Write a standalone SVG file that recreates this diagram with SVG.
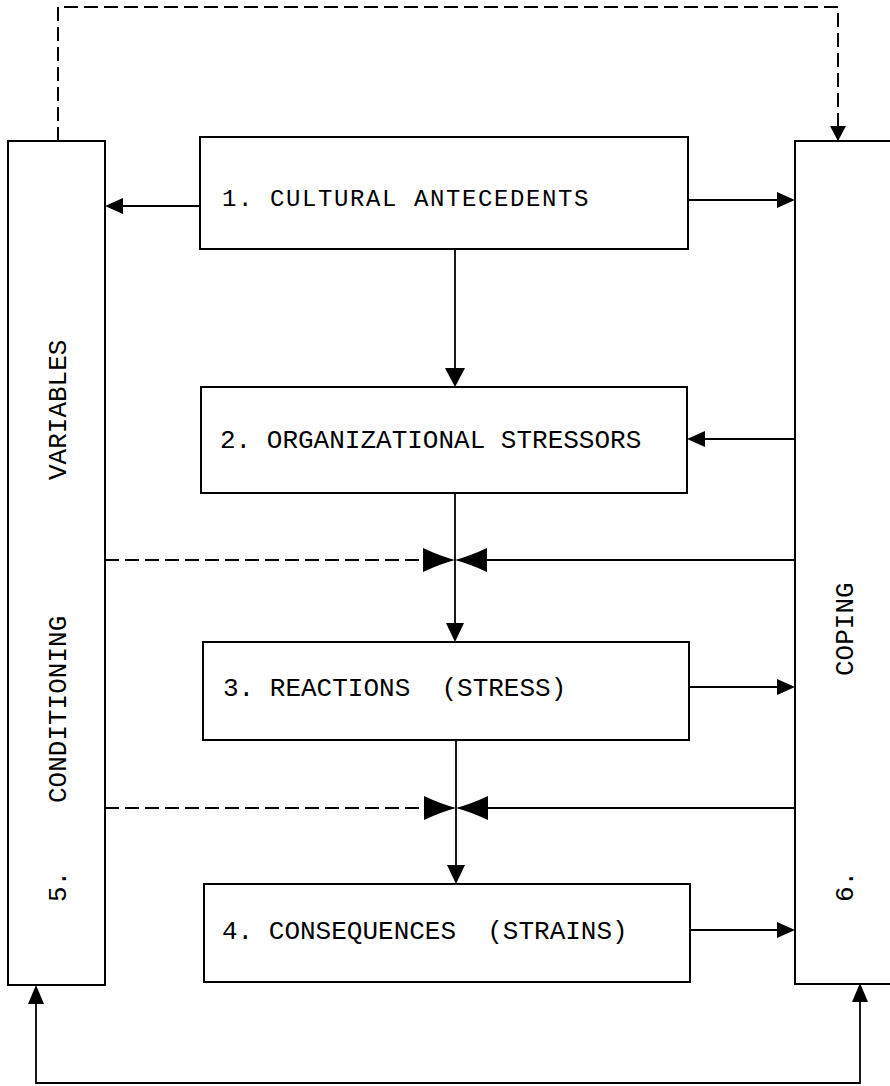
<svg xmlns="http://www.w3.org/2000/svg" width="890" height="1086" viewBox="0 0 890 1086">
<style>
.box{fill:#fff;stroke:#000;stroke-width:2}
.ln{fill:none;stroke:#000;stroke-width:1.8}
.dash{fill:none;stroke:#000;stroke-width:2;stroke-dasharray:14 6}
.hd{fill:#000;stroke:none}
.t{font-family:"Liberation Mono","DejaVu Sans Mono",monospace;font-size:26px;fill:#000}
.t1{font-family:"Liberation Mono","DejaVu Sans Mono",monospace;font-size:24px;letter-spacing:1.6px;fill:#000}
</style>
<rect width="890" height="1086" fill="#fff"/>
<g id="connectors">
  <polyline class="dash" points="58,141 58,7 838,7 838,126"/>
  <polygon class="hd" points="830,126 846,126 838,141"/>
  <polyline class="ln" points="36,1004 36,1083 860,1083 860,1002"/>
  <polygon class="hd" points="28,1004 44,1004 36,985"/>
  <polygon class="hd" points="852,1002 868,1002 860,983"/>
  <line class="ln" x1="200" y1="206" x2="122" y2="206"/>
  <polygon class="hd" points="123,198 123,214 105,206"/>
  <line class="ln" x1="688" y1="200" x2="778" y2="200"/>
  <polygon class="hd" points="777,192 777,208 795,200"/>
  <line class="ln" x1="455" y1="249" x2="455" y2="370"/>
  <polygon class="hd" points="445,368 465,368 455,387"/>
  <line class="ln" x1="795" y1="439" x2="704" y2="439"/>
  <polygon class="hd" points="705,431 705,447 687,439"/>
  <line class="ln" x1="455" y1="493" x2="455" y2="624"/>
  <polygon class="hd" points="446,623 464,623 455,642"/>
  <line class="dash" x1="105" y1="560" x2="424" y2="560"/>
  <line class="ln" x1="795" y1="560" x2="486" y2="560"/>
  <path class="hd" d="M423,548 Q440,556 455,560 Q440,564 423,572 Z"/>
  <path class="hd" d="M487,548 Q470,556 455,560 Q470,564 487,572 Z"/>
  <line class="ln" x1="689" y1="687" x2="778" y2="687"/>
  <polygon class="hd" points="777,679 777,695 795,687"/>
  <line class="ln" x1="456" y1="740" x2="456" y2="866"/>
  <polygon class="hd" points="447,865 465,865 456,884"/>
  <line class="dash" x1="105" y1="808" x2="424" y2="808"/>
  <line class="ln" x1="795" y1="808" x2="487" y2="808"/>
  <path class="hd" d="M424,796 Q441,804 456,808 Q441,812 424,820 Z"/>
  <path class="hd" d="M488,796 Q471,804 456,808 Q471,812 488,820 Z"/>
  <line class="ln" x1="690" y1="930" x2="778" y2="930"/>
  <polygon class="hd" points="777,922 777,938 795,930"/>
</g>
<g id="node5">
  <rect class="box" x="8" y="141" width="97" height="844"/>
  <text class="t" transform="translate(65.5,803) rotate(-90)">CONDITIONING</text>
  <text class="t" transform="translate(65.5,480) rotate(-90)">VARIABLES</text>
  <text class="t" transform="translate(65.5,902) rotate(-90)">5.</text>
</g>
<g id="node6">
  <rect class="box" x="795" y="141" width="100" height="843"/>
  <text class="t" transform="translate(852.5,676) rotate(-90)">COPING</text>
  <text class="t" transform="translate(852.5,902) rotate(-90)">6.</text>
</g>
<g id="node1">
  <rect class="box" x="200" y="137" width="488" height="112"/>
  <text class="t1" x="222" y="206">1. CULTURAL ANTECEDENTS</text>
</g>
<g id="node2">
  <rect class="box" x="201" y="387" width="486" height="106"/>
  <text class="t" x="220" y="448" xml:space="preserve">2. ORGANIZATIONAL STRESSORS</text>
</g>
<g id="node3">
  <rect class="box" x="203" y="642" width="486" height="98"/>
  <text class="t" x="223" y="696" xml:space="preserve">3. REACTIONS  (STRESS)</text>
</g>
<g id="node4">
  <rect class="box" x="204" y="884" width="486" height="98"/>
  <text class="t" x="222" y="939" xml:space="preserve">4. CONSEQUENCES  (STRAINS)</text>
</g>
</svg>
